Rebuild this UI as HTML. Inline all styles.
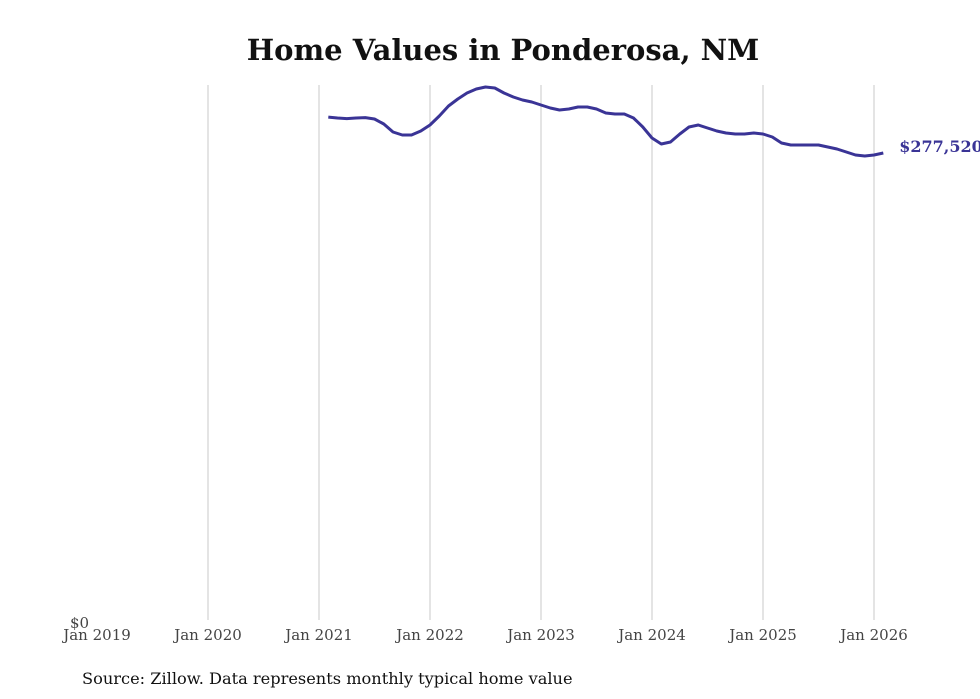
<!DOCTYPE html>
<html><head><meta charset="utf-8"><style>
body{margin:0;background:#fff;}
svg{display:block;font-family:"DejaVu Serif","Liberation Serif",serif;}
</style></head><body>
<svg id="chart" width="980" height="699">
<text x="503" y="60" text-anchor="middle" font-size="29" font-weight="bold" fill="#111">Home Values in Ponderosa, NM</text>
<g id="grid"></g>
<g id="xticks"></g>
<text x="70" y="628" font-size="15" fill="#444">$0</text>
<path id="line" fill="none" stroke="#3a3496" stroke-width="3" stroke-linejoin="round"></path>
<text id="endlabel" font-size="16" font-weight="bold" fill="#3a3496"></text>
<text x="82" y="684" font-size="16.2" fill="#111">Source: Zillow. Data represents monthly typical home value</text>
</svg>
<script>
const tickLabels=["Jan 2019","Jan 2020","Jan 2021","Jan 2022","Jan 2023","Jan 2024","Jan 2025","Jan 2026"];
const startMonth=25; // Feb 2021, months since Jan 2019
const values=[298800,298230,297900,298230,298500,297640,294680,289950,288170,288170,290540,294090,
299410,305330,309470,313020,315390,316570,315980,313020,310660,308880,307700,305920,
304150,302960,303560,304740,304740,303560,301190,300600,300600,298230,292900,286400,
282850,284030,288760,292900,294090,292310,290540,289360,288760,288760,289360,288760,
286990,283440,282250,282250,282250,282250,281070,279890,278110,276340,275740,276340,277520];
const yMax=317770;
const x=m=>97+m*(111/12);
const y=v=>622-v/yMax*537;
const NS="http://www.w3.org/2000/svg";
const grid=document.getElementById('grid'),xt=document.getElementById('xticks');
tickLabels.forEach((t,i)=>{
  const gx=x(i*12);
  if(i>0){const l=document.createElementNS(NS,'line');
  l.setAttribute('x1',gx);l.setAttribute('x2',gx);l.setAttribute('y1',85);l.setAttribute('y2',620);
  l.setAttribute('stroke','#c8c8c8');l.setAttribute('stroke-width',1);
  
  
  grid.appendChild(l);}
  const tx=document.createElementNS(NS,'text');
  tx.setAttribute('x',gx);tx.setAttribute('y',640);tx.setAttribute('text-anchor','middle');
  tx.setAttribute('font-size','15');tx.setAttribute('fill','#444');tx.textContent=t;
  
  
  xt.appendChild(tx);
});
let d='';
values.forEach((v,i)=>{d+=(i?'L':'M')+x(startMonth+i).toFixed(1)+','+y(v).toFixed(1);});
document.getElementById('line').setAttribute('d',d);
const last=values[values.length-1];
const el=document.getElementById('endlabel');
el.setAttribute('x',x(startMonth+values.length-1)+16);
el.setAttribute('y',y(last)-1);
el.textContent='$'+last.toLocaleString('en-US');
</script>
</body></html>
